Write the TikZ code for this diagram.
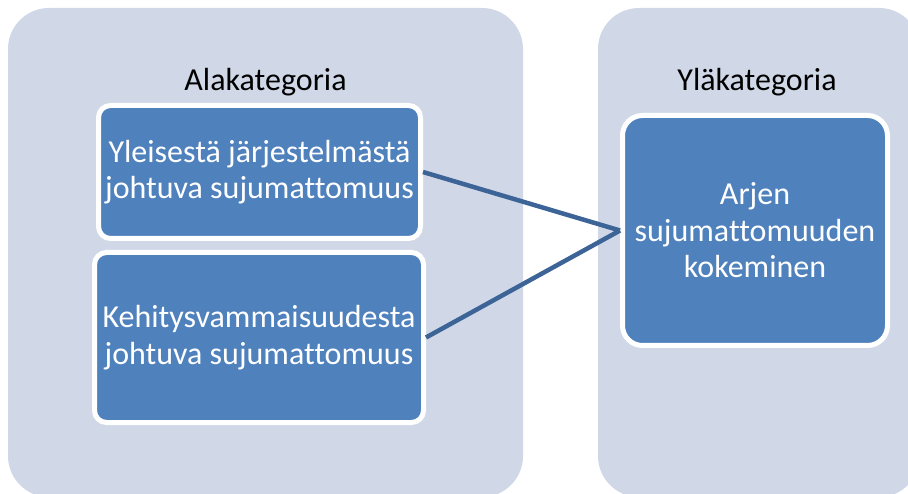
\documentclass[tikz,border=0pt]{standalone}
\usepackage{fontspec}
\setmainfont{Carlito}[Ligatures=NoCommon]
\definecolor{panel}{HTML}{D0D8E8}
\definecolor{boxfill}{HTML}{4F81BD}
\definecolor{linkcol}{HTML}{3C6496}
\tikzset{
  panelbox/.style={fill=panel, rounded corners=41pt},
  catbox/.style={draw=white, line width=5pt, fill=boxfill, rounded corners=#1,
    text=white, align=center, inner sep=0pt,
    font=\fontsize{32}{36.5}\selectfont},
  header/.style={font=\fontsize{32}{36}\selectfont, text=black, anchor=base},
  link/.style={draw=linkcol, line width=4.5pt}
}
\begin{document}
\begin{tikzpicture}[x=1pt,y=-1pt]
  \useasboundingbox (0,0) rectangle (908,494);
  \begin{scope}
    \clip (0,0) rectangle (908,494);
    % background panels
    \fill[panelbox] (8,8) rectangle (523,497);
    \fill[panelbox] (598,8) rectangle (920,497);
  \end{scope}
  % headers
  \node[header] (alahead) at (265.5,91) {Alakategoria};
  \node[header] (ylahead) at (757,91) {Yläkategoria};
  % category boxes
  \node[catbox=12pt, minimum width=322pt, minimum height=133pt]
    (yleinen) at (259.5,172) {Yleisestä järjestelmästä\\johtuva sujumattomuus};
  \node[catbox=12pt, minimum width=329pt, minimum height=170pt]
    (kehitys) at (259,337.5) {Kehitysvammaisuudesta\\johtuva sujumattomuus};
  \node[catbox=20pt, minimum width=265pt, minimum height=230pt]
    (arki) at (755,230.5) {Arjen\\sujumattomuuden\\kokeminen};
  % connectors
  \draw[link] (yleinen.east) -- (arki.west);
  \draw[link] (kehitys.east) -- (arki.west);
\end{tikzpicture}
\end{document}
